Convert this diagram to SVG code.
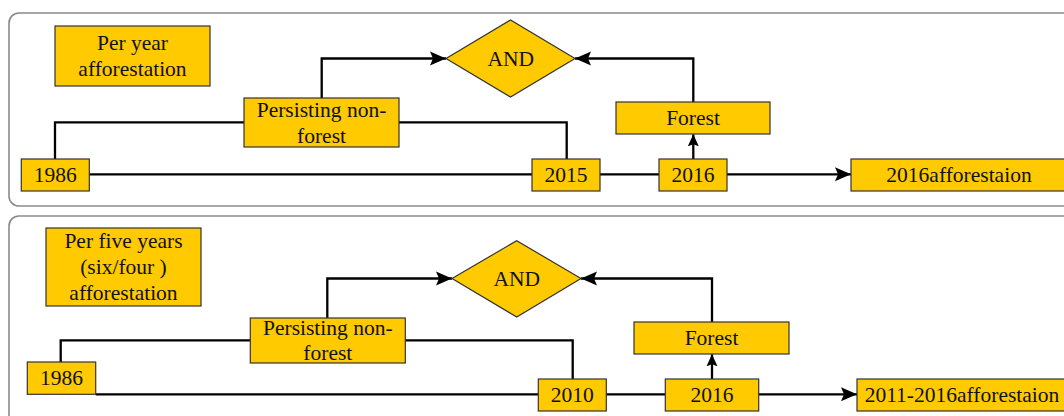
<svg xmlns="http://www.w3.org/2000/svg" width="1064" height="416" viewBox="0 0 1064 416">
<defs>
<style>
.panel{fill:#fff;stroke:#8a8a8a;stroke-width:1.6}
.box{fill:#FFCA00;stroke:#333;stroke-width:1.2}
.t{font-family:"Liberation Serif","Times New Roman",serif;font-size:21.5px;fill:#111;text-anchor:middle}
.c{fill:none;stroke:#000;stroke-width:2.3}
.a{marker-end:url(#ah)}
.u{marker-end:url(#au)}
</style>
<marker id="ah" markerUnits="userSpaceOnUse" markerWidth="17" markerHeight="16" refX="16" refY="8" orient="auto" viewBox="0 0 17 16">
<path d="M0,1 L16,8 L0,15 L3,8 Z" fill="#000"/>
</marker>
<marker id="au" markerUnits="userSpaceOnUse" markerWidth="13" markerHeight="12" refX="12" refY="6" orient="auto" viewBox="0 0 13 12">
<path d="M0,0.5 L12,6 L0,11.5 L2,6 Z" fill="#000"/>
</marker>
</defs>
<rect class="panel" x="9" y="13" width="1075" height="193" rx="10"/>
<rect class="panel" x="9" y="216" width="1075" height="220" rx="10"/>
<g id="connectors">
<path class="c" d="M89,174.3 H532"/>
<path class="c" d="M600,174.3 H659"/>
<path class="c a" d="M727,174.3 H851"/>
<path class="c" d="M55,159 V122.3 H244"/>
<path class="c" d="M399,122.3 H566.7 V159"/>
<path class="c a" d="M321.7,98 V58.5 H446"/>
<path class="c a" d="M693.3,102 V58.5 H575"/>
<path class="c u" d="M693.3,159 V134.3"/>
<path class="c" d="M60.7,362 V340.3 H250"/>
<path class="c" d="M95.7,394.3 H538"/>
<path class="c" d="M405,340.3 H572.7 V379"/>
<path class="c a" d="M327.3,318 V278.5 H452"/>
<path class="c a" d="M712,322 V278.5 H581"/>
<path class="c u" d="M712,379 V354.3"/>
<path class="c" d="M606,394.3 H665"/>
<path class="c a" d="M759,394.3 H857"/>
</g>
<g id="label-top">
<rect class="box" x="55" y="26" width="155" height="60"/>
<text class="t" x="132.5" y="50">Per year</text>
<text class="t" x="132.5" y="76">afforestation</text>
</g>
<g id="persist-top">
<rect class="box" x="244" y="98" width="155" height="49"/>
<text class="t" x="321.5" y="116.5">Persisting non-</text>
<text class="t" x="321.5" y="142.5">forest</text>
</g>
<g id="and-top">
<polygon class="box" points="446,58.5 510.5,20 575,58.5 510.5,97"/>
<text class="t" x="510.8" y="65.7">AND</text>
</g>
<g id="forest-top">
<rect class="box" x="616" y="102" width="154" height="32"/>
<text class="t" x="693" y="124.5">Forest</text>
</g>
<g id="y1986-top">
<rect class="box" x="21.3" y="159" width="68" height="32"/>
<text class="t" x="55.3" y="181.7">1986</text>
</g>
<g id="y2015-top">
<rect class="box" x="532" y="159" width="68" height="32"/>
<text class="t" x="566" y="181.7">2015</text>
</g>
<g id="y2016-top">
<rect class="box" x="659" y="159" width="68" height="32"/>
<text class="t" x="693" y="181.7">2016</text>
</g>
<g id="result-top">
<rect class="box" x="851" y="159" width="216" height="32"/>
<text class="t" x="959" y="181.7">2016afforestaion</text>
</g>
<g id="label-bottom">
<rect class="box" x="46" y="228" width="155" height="78"/>
<text class="t" x="123.5" y="248">Per five years</text>
<text class="t" x="123.5" y="274">(six/four )</text>
<text class="t" x="123.5" y="300">afforestation</text>
</g>
<g id="persist-bottom">
<rect class="box" x="250.3" y="318" width="155" height="45"/>
<text class="t" x="327.8" y="334.5">Persisting non-</text>
<text class="t" x="327.8" y="360.3">forest</text>
</g>
<g id="and-bottom">
<polygon class="box" points="452,278.5 516.7,240.7 581,278.5 516.7,317"/>
<text class="t" x="516.7" y="286">AND</text>
</g>
<g id="forest-bottom">
<rect class="box" x="634" y="322" width="155" height="32"/>
<text class="t" x="711.5" y="344.5">Forest</text>
</g>
<g id="y1986-bottom">
<rect class="box" x="27.3" y="362" width="68.4" height="32.3"/>
<text class="t" x="61.5" y="385">1986</text>
</g>
<g id="y2010-bottom">
<rect class="box" x="538.3" y="379" width="68" height="32"/>
<text class="t" x="572.3" y="401.7">2010</text>
</g>
<g id="y2016-bottom">
<rect class="box" x="665.3" y="379" width="93.4" height="32"/>
<text class="t" x="712" y="401.7">2016</text>
</g>
<g id="result-bottom">
<rect class="box" x="857" y="379" width="210" height="32"/>
<text class="t" x="962" y="401.7">2011-2016afforestaion</text>
</g>
</svg>
